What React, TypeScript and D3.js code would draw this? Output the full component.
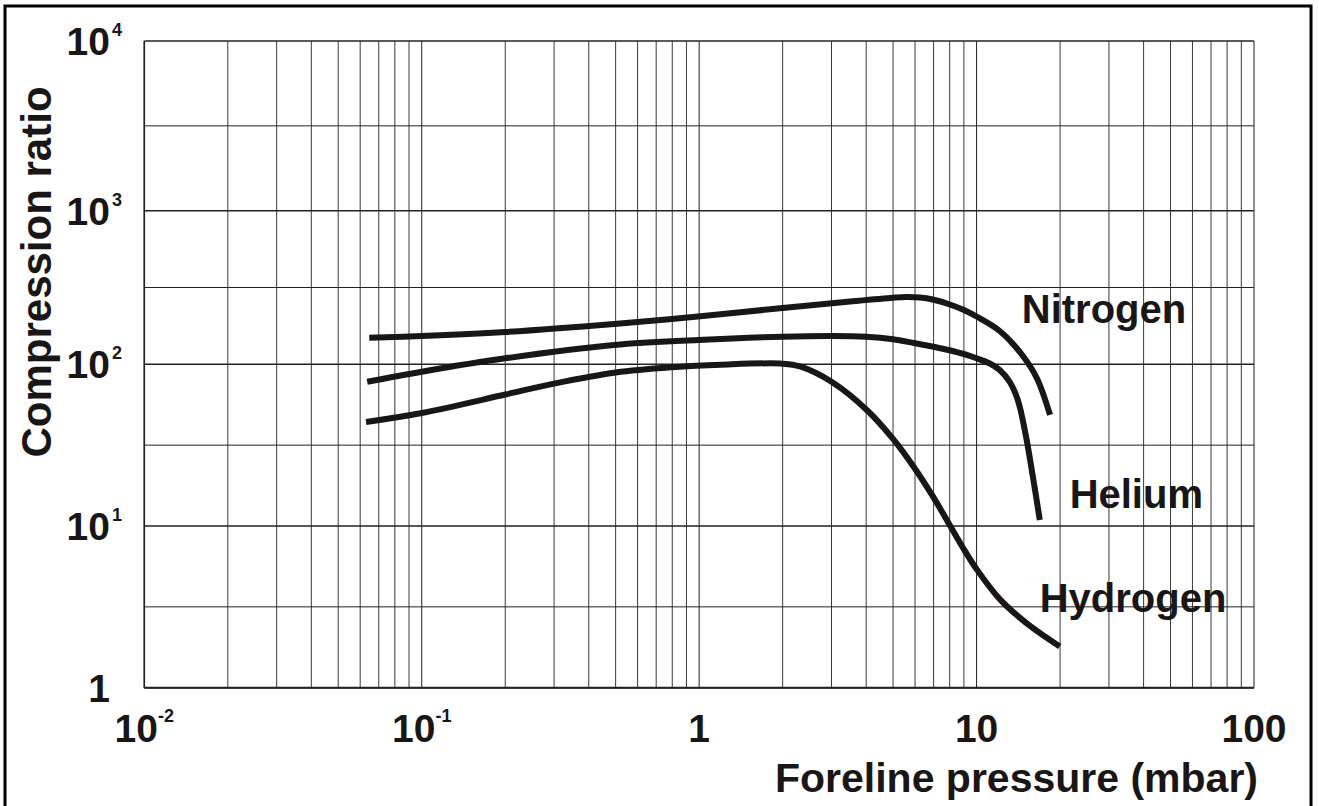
import React from "react";
import * as d3 from "d3";

// ---- data ----
const nitrogenX = [0.0647, 0.1, 0.2, 0.494, 0.99, 2.0, 3.5, 5.0, 5.56, 6.24, 6.95, 8.01, 9.0, 10, 12.12, 14.6, 16.48, 18.4];
const nitrogenY = [149, 152.8, 162.3, 183, 204.8, 232.6, 256.4, 271.4, 274.3, 272.2, 264.1, 245.1, 225.7, 204.7, 164.8, 114.9, 82.3, 48.6];

const heliumX = [0.0636, 0.1, 0.2, 0.494, 0.99, 2.0, 3.0, 4.0, 5.0, 6.0, 7.0, 9.0, 10, 11.16, 12.12, 13.17, 14.08, 15.04, 15.94, 16.9];
const heliumY = [78, 90, 109.4, 133.6, 143.9, 151.2, 152.8, 151.2, 145.6, 137, 130.2, 116.7, 109.4, 101.2, 92.2, 77.7, 60.2, 36.5, 20.4, 10.9];

const hydrogenX = [0.063, 0.1, 0.2, 0.3, 0.5, 0.8, 1.2, 2.0, 2.31, 3.01, 4.02, 4.99, 5.99, 6.95, 8.01, 8.92, 10, 12.12, 15.17, 19.94];
const hydrogenY = [44, 50, 65, 76, 89, 96, 99.5, 101, 97, 77.7, 52.2, 34.7, 22.7, 15.3, 10.1, 7.36, 5.41, 3.53, 2.5, 1.8];

const seriesNames = ["Nitrogen", "Helium", "Hydrogen"];
// label anchor points in data units (x pressure, y ratio)
const labelX = [14.55, 21.65, 16.88];
const labelY = [185.7, 12.9, 2.94];

const xTickValues = [0.01, 0.1, 1, 10, 100];
const xTickBase = ["10", "10", "1", "10", "100"];
const xTickExp = ["-2", "-1", "", "", ""];

const yTickValues = [1, 10, 100, 1000, 10000];
const yTickBase = ["1", "10", "10", "10", "10"];
const yTickExp = ["", "1", "2", "3", "4"];

const xTitle = "Foreline pressure (mbar)";
const yTitle = "Compression ratio";

const W = 1319;
const H = 806;
const FONT = "'Liberation Sans', Arial, Helvetica, sans-serif";
const INK = "#1a1616";

export default function App() {
  const x = d3.scaleLog().domain([0.01, 100]).range([144.3, 1254]);
  const y = d3.scaleLog().domain([1, 10, 100, 1000, 10000]).range([687.7, 526, 364.3, 210.7, 41]);

  // grid values
  const xGrid: number[] = [];
  for (let e = -2; e < 2; e++) for (let k = 1; k <= 9; k++) xGrid.push(k * Math.pow(10, e));
  xGrid.push(100);
  const yGrid: number[] = [];
  for (let e = 0; e < 4; e++) {
    yGrid.push(Math.pow(10, e));
    yGrid.push(Math.pow(10, e + 0.5));
  }
  yGrid.push(10000);

  const line = d3
    .line<[number, number]>()
    .x((d) => x(d[0]))
    .y((d) => y(d[1]))
    .curve(d3.curveCatmullRom.alpha(0.5));

  const series = [
    d3.zip(nitrogenX, nitrogenY) as [number, number][],
    d3.zip(heliumX, heliumY) as [number, number][],
    d3.zip(hydrogenX, hydrogenY) as [number, number][],
  ];

  const [x0, x1] = x.range();
  const yTop = y(10000);
  const yBot = y(1);

  return (
    <svg
      width={W}
      height={H}
      style={{ position: "absolute", left: 0, top: 0, background: "#fff" }}
      fontFamily={FONT}
      fontWeight="bold"
    >
      <rect x={0} y={0} width={W} height={H} fill="#fff" />
      {/* outer frame */}
      <rect x={5} y={6} width={1306} height={830} fill="none" stroke="#000" strokeWidth={3} />

      {/* vertical grid */}
      {xGrid.map((v, i) => (
        <line
          key={"vx" + i}
          x1={x(v)}
          x2={x(v)}
          y1={yTop}
          y2={yBot}
          stroke={Math.abs(Math.log10(v) - Math.round(Math.log10(v))) < 1e-9 ? "#222" : "#3a3a3a"}
          strokeWidth={1}
        />
      ))}
      {/* horizontal grid */}
      {yGrid.map((v, i) => {
        const major = Math.abs(Math.log10(v) - Math.round(Math.log10(v))) < 1e-9;
        return (
          <line
            key={"hy" + i}
            x1={x0}
            x2={x1}
            y1={y(v)}
            y2={y(v)}
            stroke="#222"
            strokeWidth={major ? 1.6 : 1}
          />
        );
      })}
      {/* axes */}
      <line x1={x0} x2={x1} y1={yBot} y2={yBot} stroke="#222" strokeWidth={2} />
      <line x1={x0} x2={x0} y1={yTop} y2={yBot} stroke="#222" strokeWidth={1.6} />

      {/* curves */}
      {series.map((s, i) => (
        <path
          key={"s" + i}
          d={line(s) || ""}
          fill="none"
          stroke={INK}
          strokeWidth={6}
          strokeLinecap="butt"
          strokeLinejoin="round"
        />
      ))}

      {/* series labels */}
      {seriesNames.map((n, i) => (
        <text key={"l" + i} x={x(labelX[i])} y={y(labelY[i])} fontSize={40} fill={INK}>
          {n}
        </text>
      ))}

      {/* x tick labels */}
      {xTickValues.map((v, i) => (
        <text key={"xt" + i} x={x(v)} y={yBot + 54} fontSize={39} fill={INK} textAnchor="middle">
          {xTickBase[i]}
          {xTickExp[i] ? (
            <tspan fontSize={18} dy={-20}>
              {xTickExp[i]}
            </tspan>
          ) : null}
        </text>
      ))}

      {/* y tick labels */}
      {yTickValues.map((v, i) => (
        <g key={"yt" + i}>
          <text x={110} y={y(v) + 14} fontSize={39} fill={INK} textAnchor="end">
            {yTickBase[i]}
          </text>
          {yTickExp[i] ? (
            <text x={112} y={y(v) - 5} fontSize={18} fill={INK}>
              {yTickExp[i]}
            </text>
          ) : null}
        </g>
      ))}

      {/* axis titles */}
      <text x={1258} y={792} fontSize={41} fill={INK} textAnchor="end">
        {xTitle}
      </text>
      <text transform="translate(51, 272) rotate(-90)" fontSize={42} fill={INK} textAnchor="middle">
        {yTitle}
      </text>
    </svg>
  );
}
